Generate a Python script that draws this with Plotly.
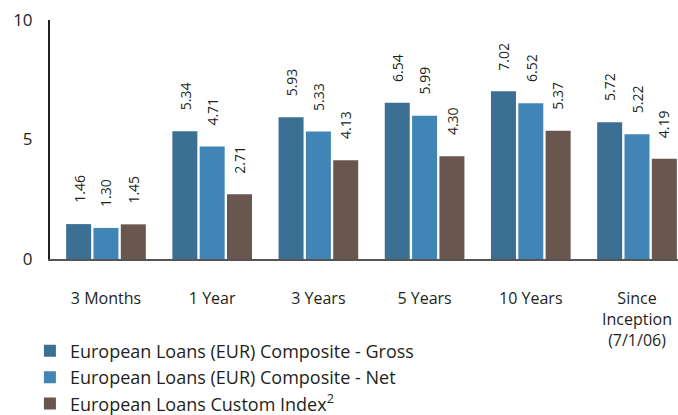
import plotly.graph_objects as go

categories = ["3 Months", "1 Year", "3 Years", "5 Years", "10 Years", "Since<br>Inception<br>(7/1/06)"]
gross = [1.46, 5.34, 5.93, 6.54, 7.02, 5.72]
net = [1.30, 4.71, 5.33, 5.99, 6.52, 5.22]
custom = [1.45, 2.71, 4.13, 4.30, 5.37, 4.19]
series_names = ["European Loans (EUR) Composite - Gross",
                "European Loans (EUR) Composite - Net",
                "European Loans Custom Index<sup>2</sup>"]
colors = ["#3c6f94", "#4185b6", "#69564f"]

FONT = "Open Sans"
fig = go.Figure()
all_series = [gross, net, custom]
for name, vals, col in zip(series_names, all_series, colors):
    fig.add_trace(go.Bar(x=categories, y=vals, name=name, marker_color=col,
                         marker_line_width=0))

offsets = [-27.3, 0, 27.3]
for vals, off in zip(all_series, offsets):
    for c, v in zip(categories, vals):
        fig.add_annotation(x=c, y=v, text=f"{v:.2f}", textangle=-90, showarrow=False,
                           xshift=off, yshift=19, yanchor="bottom", xanchor="center",
                           font=dict(family=FONT, size=14, color="#231f20"))

fig.update_layout(
    width=678, height=415,
    margin=dict(l=50, r=0, t=20, b=156, autoexpand=False),
    plot_bgcolor="white", paper_bgcolor="white",
    barmode="group", bargap=0.228, bargroupgap=0.085,
    font=dict(family=FONT, size=14, color="#231f20"),
    showlegend=True,
    legend=dict(orientation="v", x=-0.032, y=-0.308, xanchor="left", yanchor="top",
                font=dict(family=FONT, size=18, color="#231f20"),
                itemwidth=30, tracegroupgap=0, traceorder="normal"),
)
fig.update_xaxes(range=[-0.527, 5.386], showline=True, linecolor="#555555", linewidth=2,
                 ticks="", tickangle=0, ticklabelstandoff=24, tickfont=dict(size=16),
                 showgrid=False)
fig.update_yaxes(range=[0, 10], dtick=5, showline=True, linecolor="#231f20", linewidth=2,
                 ticks="", ticklabelstandoff=12, showgrid=False, zeroline=False,
                 ticklabeloverflow="allow", tickfont=dict(size=17))
fig.write_html("out.html", config={"displayModeBar": False},
               post_script="document.body.style.margin='0';document.body.style.overflow='hidden';")
